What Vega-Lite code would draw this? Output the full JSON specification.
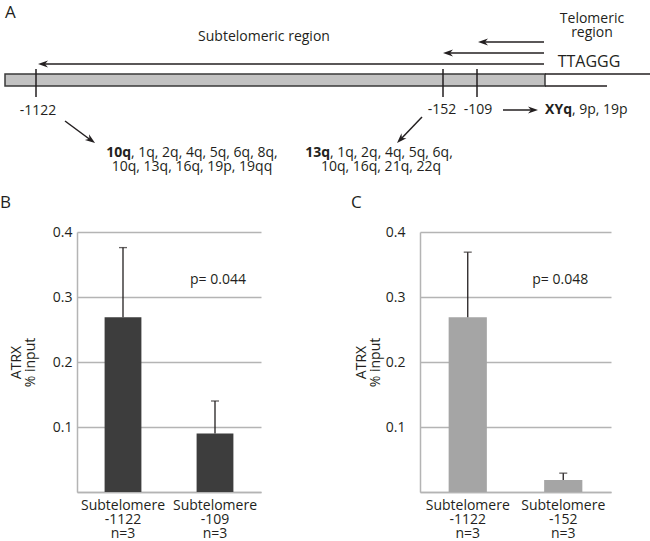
{
  "$schema": "https://vega.github.io/schema/vega-lite/v6.json",
  "padding": 0,
  "spacing": 14,
  "background": "white",
  "config": {
    "font": "Open Sans",
    "view": {"stroke": null},
    "text": {"font": "Open Sans", "color": "#231f20"},
    "title": {"anchor": "start", "frame": "group", "fontSize": 17, "fontWeight": "normal", "baseline": "alphabetic", "offset": 13, "color": "#231f20", "font": "Open Sans"},
    "axis": {"labelFont": "Open Sans", "titleFont": "Open Sans", "labelColor": "#231f20", "titleColor": "#231f20"}
  },
  "datasets": {
    "region": [{"x": 5, "x2": 545, "y": 74, "y2": 86}],
    "lines": [
      {"x": 545, "x2": 650, "y": 74, "y2": 74},
      {"x": 545, "x2": 607, "y": 86, "y2": 86},
      {"x": 36, "x2": 36, "y": 69, "y2": 97},
      {"x": 443, "x2": 443, "y": 69, "y2": 97},
      {"x": 477, "x2": 477, "y": 69, "y2": 97},
      {"x": 481, "x2": 544, "y": 42, "y2": 42},
      {"x": 446, "x2": 544, "y": 53, "y2": 53},
      {"x": 41, "x2": 544, "y": 64, "y2": 64},
      {"x": 503, "x2": 535, "y": 110, "y2": 110},
      {"x": 65, "x2": 92, "y": 121, "y2": 141},
      {"x": 422, "x2": 400, "y": 117, "y2": 140}
    ],
    "heads": [
      {"x": 483, "y": 42, "dir": 180},
      {"x": 448, "y": 53, "dir": 180},
      {"x": 43, "y": 64, "dir": 180},
      {"x": 533, "y": 110, "dir": 0},
      {"x": 91, "y": 140, "dir": 36},
      {"x": 400.5, "y": 139.4, "dir": 134}
    ],
    "textCenter": [
      {"x": 264, "y": 37, "label": "Subtelomeric region"},
      {"x": 592, "y": 19, "label": "Telomeric"},
      {"x": 592, "y": 33, "label": "region"},
      {"x": 38, "y": 111, "label": "-1122"},
      {"x": 442, "y": 110, "label": "-152"},
      {"x": 478, "y": 110, "label": "-109"},
      {"x": 192, "y": 167, "label": "10q, 13q, 16q, 19p, 19qq"},
      {"x": 381, "y": 167, "label": "10q, 16q, 21q, 22q"}
    ],
    "textLeft": [
      {"x": 131, "y": 153, "label": ", 1q, 2q, 4q, 5q, 6q, 8q,"},
      {"x": 330, "y": 153, "label": ", 1q, 2q, 4q, 5q, 6q,"},
      {"x": 572, "y": 110, "label": ", 9p, 19p"}
    ],
    "textBold": [
      {"x": 131, "y": 153, "label": "10q"},
      {"x": 330, "y": 153, "label": "13q"},
      {"x": 572, "y": 110, "label": "XYq"}
    ],
    "textBig": [{"x": 589, "y": 62, "label": "TTAGGG"}],
    "panelLetter": [{"x": 5, "y": 13, "label": "A"}],
    "b": [
      {"site": "Subtelomere|-1122|n=3", "value": 0.269, "upper": 0.376},
      {"site": "Subtelomere|-109|n=3", "value": 0.09, "upper": 0.14}
    ],
    "c": [
      {"site": "Subtelomere|-1122|n=3", "value": 0.269, "upper": 0.369},
      {"site": "Subtelomere|-152|n=3", "value": 0.0185, "upper": 0.029}
    ]
  },
  "vconcat": [
    {
      "width": 573,
      "height": 180,
      "encoding": {
        "x": {"field": "x", "type": "quantitative", "scale": {"domain": [77, 650], "nice": false, "zero": false}, "axis": null},
        "y": {"field": "y", "type": "quantitative", "scale": {"domain": [0, 180], "nice": false, "zero": false, "reverse": true}, "axis": null}
      },
      "layer": [
        {"data": {"name": "region"}, "mark": {"type": "rect", "fill": "#c2c2c2", "stroke": "#3a3a3a", "strokeWidth": 1.5},
         "encoding": {"x2": {"field": "x2"}, "y2": {"field": "y2"}}},
        {"data": {"name": "lines"}, "mark": {"type": "rule", "color": "#231f20", "strokeWidth": 1.5},
         "encoding": {"x2": {"field": "x2"}, "y2": {"field": "y2"}}},
        {"data": {"name": "heads"}, "mark": {"type": "point", "shape": "M1,0L-1,-0.7L-0.4,0L-1,0.7Z", "filled": true, "color": "#231f20", "size": 100, "opacity": 1, "strokeWidth": 0},
         "encoding": {"angle": {"field": "dir", "type": "quantitative", "scale": null}}},
        {"data": {"name": "textCenter"}, "mark": {"type": "text", "fontSize": 14, "align": "center", "baseline": "middle"},
         "encoding": {"text": {"field": "label"}}},
        {"data": {"name": "textLeft"}, "mark": {"type": "text", "fontSize": 14, "align": "left", "baseline": "middle"},
         "encoding": {"text": {"field": "label"}}},
        {"data": {"name": "textBold"}, "mark": {"type": "text", "fontSize": 14, "fontWeight": "bold", "align": "right", "baseline": "middle"},
         "encoding": {"text": {"field": "label"}}},
        {"data": {"name": "textBig"}, "mark": {"type": "text", "fontSize": 16, "align": "center", "baseline": "middle"},
         "encoding": {"text": {"field": "label"}}},
        {"data": {"name": "panelLetter"}, "mark": {"type": "text", "fontSize": 17, "align": "left", "baseline": "middle"},
         "encoding": {"text": {"field": "label"}}}
      ]
    },
    {
      "spacing": 90,
      "hconcat": [
        {
          "width": 184,
          "height": 260,
          "title": {"text": "B", "dx": -77},
          "data": {"name": "b"},
          "encoding": {
            "x": {"field": "site", "type": "nominal", "sort": null,
                  "scale": {"paddingInner": 0.6, "paddingOuter": 0.3},
                  "axis": {"title": null, "labelAngle": 0, "labelExpr": "split(datum.label, '|')", "labelFontSize": 14, "labelLineHeight": 14, "labelPadding": 6, "labelBaseline": "top", "labelOverlap": false, "ticks": false, "tickSize": 0, "domainColor": "#b4b4b4", "domainWidth": 1.5, "grid": false}}
          },
          "layer": [
            {"mark": {"type": "bar", "color": "#3d3d3d"},
             "encoding": {"y": {"field": "value", "type": "quantitative",
               "scale": {"domain": [0, 0.4], "nice": false},
               "axis": {"title": ["ATRX", "% input"], "values": [0, 0.05, 0.1, 0.15, 0.2, 0.25, 0.3, 0.35, 0.4], "format": ".2~f",
                        "labelExpr": "length(datum.label) == 3 ? datum.label : ''",
                        "gridColor": "#b4b4b4", "gridWidth": 1.5, "domainColor": "#b4b4b4", "domainWidth": 1.5,
                        "ticks": false, "tickSize": 0, "labelPadding": 5, "labelFontSize": 14,
                        "titleFontSize": 14, "titleFontWeight": "normal", "titlePadding": 15, "titleLineHeight": 14}}}},
            {"mark": {"type": "rule", "color": "#231f20", "strokeWidth": 1.3},
             "encoding": {"y": {"field": "value", "type": "quantitative"}, "y2": {"field": "upper"}}},
            {"mark": {"type": "tick", "color": "#231f20", "thickness": 1.3, "size": 8},
             "encoding": {"y": {"field": "upper", "type": "quantitative"}}},
            {"data": {"values": [{}]},
             "mark": {"type": "text", "fontSize": 14, "text": "p= 0.044", "dx": 3, "baseline": "middle"},
             "encoding": {"x": {"datum": "Subtelomere|-109|n=3", "type": "nominal"}, "y": {"datum": 0.326, "type": "quantitative"}}}
          ]
        },
        {
          "width": 191,
          "height": 260,
          "title": {"text": "C", "dx": -69},
          "data": {"name": "c"},
          "encoding": {
            "x": {"field": "site", "type": "nominal", "sort": null,
                  "scale": {"paddingInner": 0.6, "paddingOuter": 0.3},
                  "axis": {"title": null, "labelAngle": 0, "labelExpr": "split(datum.label, '|')", "labelFontSize": 14, "labelLineHeight": 14, "labelPadding": 6, "labelBaseline": "top", "labelOverlap": false, "ticks": false, "tickSize": 0, "domainColor": "#b4b4b4", "domainWidth": 1.5, "grid": false}}
          },
          "layer": [
            {"mark": {"type": "bar", "color": "#a5a5a5"},
             "encoding": {"y": {"field": "value", "type": "quantitative",
               "scale": {"domain": [0, 0.4], "nice": false},
               "axis": {"title": ["ATRX", "% input"], "values": [0, 0.05, 0.1, 0.15, 0.2, 0.25, 0.3, 0.35, 0.4], "format": ".2~f",
                        "labelExpr": "length(datum.label) == 3 ? datum.label : ''",
                        "gridColor": "#b4b4b4", "gridWidth": 1.5, "domainColor": "#b4b4b4", "domainWidth": 1.5,
                        "ticks": false, "tickSize": 0, "labelPadding": 15, "labelFontSize": 14,
                        "titleFontSize": 14, "titleFontWeight": "normal", "titlePadding": 3, "titleLineHeight": 14}}}},
            {"mark": {"type": "rule", "color": "#231f20", "strokeWidth": 1.3},
             "encoding": {"y": {"field": "value", "type": "quantitative"}, "y2": {"field": "upper"}}},
            {"mark": {"type": "tick", "color": "#231f20", "thickness": 1.3, "size": 8},
             "encoding": {"y": {"field": "upper", "type": "quantitative"}}},
            {"data": {"values": [{}]},
             "mark": {"type": "text", "fontSize": 14, "text": "p= 0.048", "dx": -3, "baseline": "middle"},
             "encoding": {"x": {"datum": "Subtelomere|-152|n=3", "type": "nominal"}, "y": {"datum": 0.326, "type": "quantitative"}}}
          ]
        }
      ]
    }
  ]
}
